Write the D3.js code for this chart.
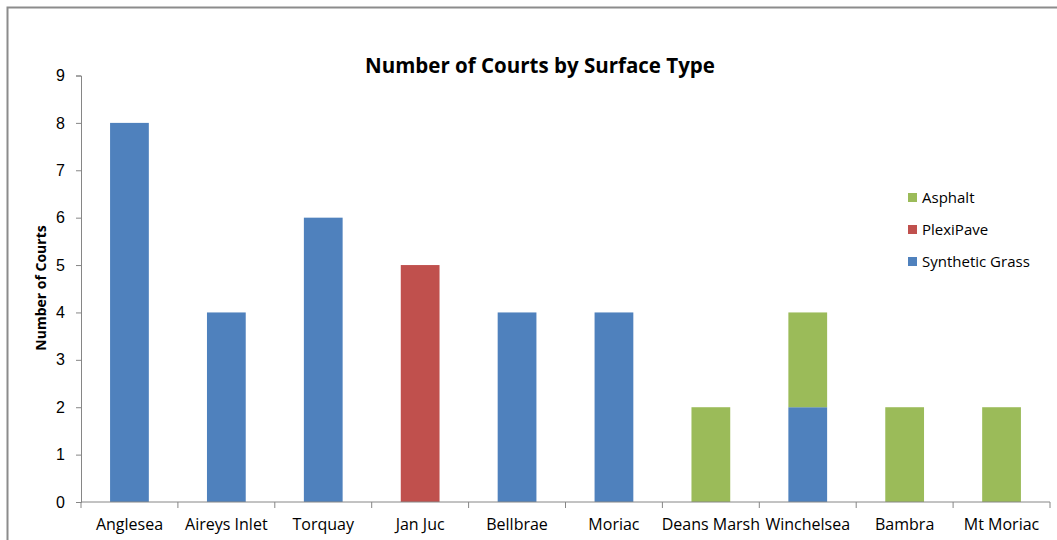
<!DOCTYPE html>
<html><head><meta charset="utf-8">
<script src="https://cdn.jsdelivr.net/npm/d3@7"></script>
<style>body{margin:0;background:#fff;}svg{display:block;font-family:"Open Sans","Liberation Sans",sans-serif;}</style>
</head><body><svg id="c" width="1057" height="540"></svg>
<script>
const categories = ["Anglesea","Aireys Inlet","Torquay","Jan Juc","Bellbrae","Moriac","Deans Marsh","Winchelsea","Bambra","Mt Moriac"];
const syntheticGrass = [8,4,6,0,4,4,0,2,0,0];
const plexiPave = [0,0,0,5,0,0,0,0,0,0];
const asphalt = [0,0,0,0,0,0,2,2,2,2];
const seriesNames = ["Synthetic Grass","PlexiPave","Asphalt"];
const yTicks = [0,1,2,3,4,5,6,7,8,9];
const colors = {"Synthetic Grass":"#4F81BD","PlexiPave":"#C0504D","Asphalt":"#9BBB59"};

const svg = d3.select("#c");
// chart border
svg.append("rect").attr("x",7.5).attr("y",7.5).attr("width",1060).attr("height",545)
  .attr("fill","none").attr("stroke","#8c8c8c").attr("stroke-width",2);

const x = d3.scaleBand().domain(categories).range([81,1050]).paddingInner(0.6).paddingOuter(0.3);
const y = d3.scaleLinear().domain([0,9]).range([502,75.5]);

const rows = categories.map((c,i)=>({cat:c,"Synthetic Grass":syntheticGrass[i],"PlexiPave":plexiPave[i],"Asphalt":asphalt[i]}));
const stack = d3.stack().keys(seriesNames)(rows);

svg.append("g").selectAll("g").data(stack).join("g").attr("fill",d=>colors[d.key])
  .selectAll("rect").data(d=>d.filter(p=>p[1]-p[0]>0)).join("rect")
  .attr("x",d=>x(d.data.cat)).attr("width",x.bandwidth())
  .attr("y",d=>y(d[1])).attr("height",d=>y(d[0])-y(d[1]));

// y axis
const ya = svg.append("g").attr("transform","translate(81,0)")
  .call(d3.axisLeft(y).tickValues(yTicks).tickSize(5).tickPadding(11).tickFormat(d3.format("d")));
ya.select(".domain").attr("stroke","#868686");
ya.selectAll(".tick line").attr("stroke","#868686");
ya.selectAll("text").attr("font-size",16).attr("fill","#000").style("font-family","inherit");

// x axis with ticks between categories
const xa = svg.append("g").attr("transform","translate(0,502)");
const bx = d3.scaleBand().domain(categories).range([81,1050]);
xa.append("line").attr("x1",81).attr("x2",1050).attr("stroke","#868686");
const edges = categories.map(c=>bx(c)).concat([1050]);
xa.selectAll("line.t").data(edges).join("line").attr("class","t")
  .attr("x1",d=>d).attr("x2",d=>d).attr("y1",0).attr("y2",6).attr("stroke","#868686");
xa.selectAll("text").data(categories).join("text")
  .attr("x",d=>bx(d)+bx.bandwidth()/2).attr("y",28).attr("text-anchor","middle")
  .attr("font-size",16).attr("fill","#000").text(d=>d);

// title
svg.append("text").attr("x",540).attr("y",73).attr("text-anchor","middle")
  .attr("font-size",20.5).attr("font-weight","bold").attr("fill","#000").text("Number of Courts by Surface Type");
// y axis title
svg.append("text").attr("transform","translate(46,288) rotate(-90)").attr("text-anchor","middle")
  .attr("font-size",14).attr("font-weight","bold").attr("fill","#000").text("Number of Courts");

// legend
const legendOrder = ["Asphalt","PlexiPave","Synthetic Grass"];
const lg = svg.append("g").selectAll("g").data(legendOrder).join("g")
  .attr("transform",(d,i)=>`translate(908,${198+i*32})`);
lg.append("rect").attr("x",0).attr("y",-5).attr("width",9).attr("height",9).attr("fill",d=>colors[d]);
lg.append("text").attr("x",14).attr("y",5).attr("font-size",15).attr("fill","#000").text(d=>d);
</script></body></html>
